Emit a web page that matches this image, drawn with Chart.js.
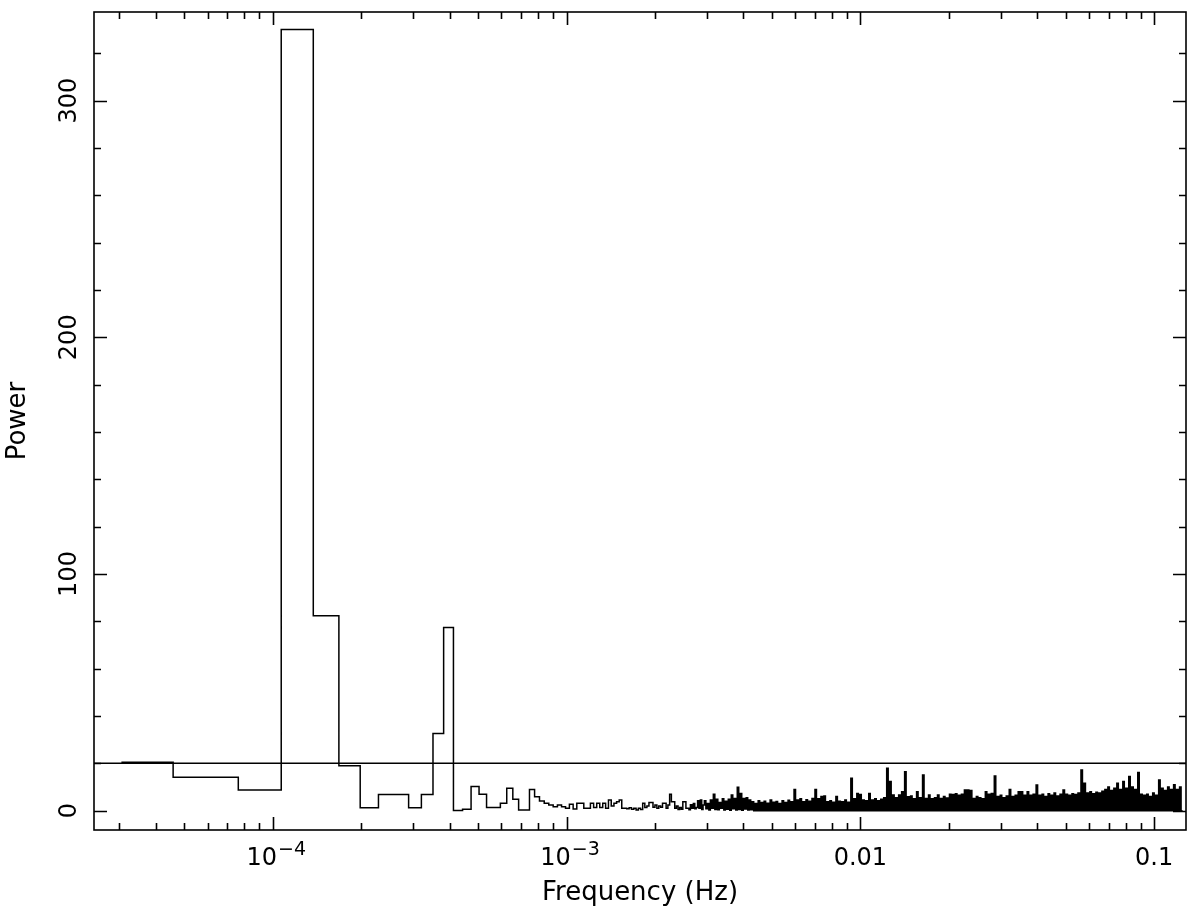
<!DOCTYPE html>
<html>
<head>
<meta charset="utf-8">
<script src="https://cdn.jsdelivr.net/npm/chart.js@4"></script>
<style>
  html, body { margin: 0; padding: 0; background: #fff; }
  #wrap { width: 1200px; height: 921px; }
</style>
</head>
<body>
<div id="wrap"><canvas id="psd" width="1200" height="921"></canvas></div>
<script>
// frequency grid: 8192 points of 4 s -> df = 1/32768 Hz
const binWidth = 1 / 32768;

// power of bins n = 1..96 (resolved one by one on the plot)
const binPower = [
  20.5, 14.1, 8.8, 330, 82.4, 19.0, 1.3, 6.8, 6.8, 1.3,
  6.8, 32.6, 77.4, 0.1, 0.6, 10.2, 6.9, 1.4, 1.4, 3.1,
  9.5, 4.8, 0.3, 0.3, 9.0, 5.9, 4.1, 3.1, 2.4, 1.7,
  2.4, 1.7, 1.0, 2.7, 0.7, 3.1, 3.1, 1.0, 1.0, 3.1,
  1.4, 3.1, 1.4, 3.1, 1.0, 4.5, 2.0, 3.1, 3.8, 4.5,
  1.0, 1.0, 0.8, 1.2, 0.6, 1.0, 0.3, 1.0, 0.5, 3.1,
  1.4, 2.0, 3.5, 3.5, 1.5, 2.4, 1.0, 2.0, 1.5, 3.1,
  3.1, 1.0, 2.4, 7.0, 3.8, 3.8, 1.0, 2.0, 0.5, 1.4,
  0.6, 3.8, 3.8, 1.0, 1.0, 0.4, 2.5, 1.0, 3.0, 0.8,
  1.4, 4.2, 1.0, 4.5, 0.5, 2.4
];

// above ~3e-3 Hz the bins are too dense to resolve: envelope read per ~3 px column
const noiseStart = 96.5 * binWidth;
const noiseEnd = 0.125;
const noisePeak = [
  4.2, 3.0, 4.5, 7.0, 4.8, 3.5, 5.0, 4.0, 4.8, 6.6,
  5.2, 9.9, 7.3, 5.2, 5.5, 4.5, 3.8, 3.0, 4.2, 3.5,
  4.0, 3.2, 4.5, 3.6, 3.9, 3.0, 4.2, 3.5, 4.4, 3.8,
  9.0, 4.5, 5.0, 3.8, 4.6, 4.0, 5.2, 9.0, 5.0, 6.0,
  6.2, 3.8, 4.2, 3.6, 6.0, 4.0, 3.8, 4.5, 3.6, 13.7,
  5.0, 7.3, 6.8, 4.5, 4.2, 7.3, 4.5, 5.0, 4.2, 4.8,
  5.5, 17.9, 12.3, 6.6, 5.5, 6.6, 8.0, 16.5, 5.9, 6.2,
  5.0, 8.0, 5.5, 15.1, 5.2, 6.6, 5.0, 5.5, 6.6, 5.2,
  6.0, 5.4, 7.0, 6.8, 7.2, 6.5, 7.0, 8.7, 8.7, 8.5,
  5.2, 6.0, 5.5, 5.0, 8.0, 7.0, 7.3, 14.7, 6.0, 6.5,
  5.5, 6.2, 9.0, 6.0, 6.5, 8.0, 8.0, 6.5, 8.0, 6.5,
  7.0, 10.9, 6.5, 7.0, 6.0, 7.2, 6.5, 7.5, 6.2, 7.0,
  8.7, 7.0, 6.5, 7.2, 6.8, 7.5, 17.2, 11.6, 7.5, 8.0,
  7.2, 7.8, 7.5, 8.2, 9.0, 10.0, 8.5, 9.5, 11.6, 9.0,
  12.3, 9.5, 14.4, 10.0, 9.0, 16.1, 7.0, 6.5, 7.0, 6.0,
  7.5, 6.5, 13.0, 9.5, 8.5, 10.0, 9.0, 11.0, 9.0, 10.0
];
const noiseLow = [
  0.8, 0.3, 1.0, 0.5, 0.4, 1.0, 0.3, 0.6, 0.2, 0.8,
  0.3, 0.5, 0.2, 0.7, 0.3, 0.4, 0, 0, 0, 0,
  0, 0, 0, 0, 0, 0, 0, 0, 0, 0,
  0, 0, 0, 0, 0, 0, 0, 0, 0, 0,
  0, 0, 0, 0, 0, 0, 0, 0, 0, 0,
  0, 0, 0, 0, 0, 0, 0, 0, 0, 0,
  0, 0, 0, 0, 0, 0, 0, 0, 0, 0,
  0, 0, 0, 0, 0, 0, 0, 0, 0, 0,
  0, 0, 0, 0, 0, 0, 0, 0, 0, 0,
  0, 0, 0, 0, 0, 0, 0, 0, 0, 0,
  0, 0, 0, 0, 0, 0, 0, 0, 0, 0,
  0, 0, 0, 0, 0, 0, 0, 0, 0, 0,
  0, 0, 0, 0, 0, 0, 0, 0, 0, 0,
  0, 0, 0, 0, 0, 0, 0, 0, 0, 0,
  0, 0, 0, 0, 0, 0, 0, 0, 0, 0,
  0, 0, 0, 0, 0, 0, 0, 0, 0, 0
];

const levelPower = 20;

const xMin = 2.462e-5, xMax = 0.1284;
const yMin = -8.15, yMax = 337.4;
const yTickLabels = [0, 100, 200, 300];
const xTickLabels = [
  { f: 1e-4, base: '10', exp: '\u22124' },
  { f: 1e-3, base: '10', exp: '\u22123' },
  { f: 0.01, base: '0.01' },
  { f: 0.1, base: '0.1' }
];

// histogram steps: first bin drawn from its centre, the rest from their left edge
const spectrum = [{ x: binWidth, y: binPower[0] }];
for (let n = 2; n <= binPower.length; n++) {
  spectrum.push({ x: (n - 0.5) * binWidth, y: binPower[n - 1] });
}
const ratio = noiseEnd / noiseStart;
for (let k = 0; k < noisePeak.length; k++) {
  spectrum.push({ x: noiseStart * Math.pow(ratio, k / noisePeak.length), y: noisePeak[k] });
  spectrum.push({ x: noiseStart * Math.pow(ratio, (k + 0.5) / noisePeak.length), y: noiseLow[k] });
}
spectrum.push({ x: noiseEnd, y: noiseLow[noiseLow.length - 1] });

const FONT = '"DejaVu Sans", "Liberation Sans", sans-serif';

const framePlugin = {
  id: 'frame',
  afterDraw(chart) {
    const { ctx, chartArea: a, scales } = chart;
    const x = scales.x, y = scales.y;
    ctx.save();
    ctx.strokeStyle = '#000';
    ctx.lineWidth = 1.6;
    ctx.strokeRect(a.left, a.top, a.right - a.left, a.bottom - a.top);

    ctx.beginPath();
    for (let d = -5; d <= 0; d++) {
      for (let m = 1; m <= 9; m++) {
        const f = m * Math.pow(10, d);
        if (f < xMin || f > xMax) continue;
        const px = Math.round(x.getPixelForValue(f)) + 0.5;
        const len = m === 1 ? 13 : 7;
        ctx.moveTo(px, a.bottom); ctx.lineTo(px, a.bottom - len);
        ctx.moveTo(px, a.top); ctx.lineTo(px, a.top + len);
      }
    }
    for (let v = 0; v <= yMax; v += 20) {
      const py = Math.round(y.getPixelForValue(v)) + 0.5;
      const len = v % 100 === 0 ? 13 : 7;
      ctx.moveTo(a.left, py); ctx.lineTo(a.left + len, py);
      ctx.moveTo(a.right, py); ctx.lineTo(a.right - len, py);
    }
    ctx.stroke();

    ctx.fillStyle = '#000';
    ctx.textBaseline = 'alphabetic';

    // y tick labels, rotated
    ctx.font = '24px ' + FONT;
    ctx.textAlign = 'center';
    yTickLabels.forEach(v => {
      ctx.save();
      ctx.translate(76, y.getPixelForValue(v));
      ctx.rotate(-Math.PI / 2);
      ctx.fillText(String(v), 0, 0);
      ctx.restore();
    });

    // x tick labels, with superscript exponents
    xTickLabels.forEach(t => {
      const px = x.getPixelForValue(t.f);
      ctx.font = '24px ' + FONT;
      const wb = ctx.measureText(t.base).width;
      let we = 0;
      if (t.exp) {
        ctx.font = '19px ' + FONT;
        we = ctx.measureText(t.exp).width;
      }
      const left = px - (wb + we) / 2 + (t.exp ? 3 : 0);
      ctx.textAlign = 'left';
      ctx.font = '24px ' + FONT;
      ctx.fillText(t.base, left, 865);
      if (t.exp) {
        ctx.font = '19px ' + FONT;
        ctx.fillText(t.exp, left + wb + 1, 855);
      }
    });

    // axis titles
    ctx.font = '26px ' + FONT;
    ctx.textAlign = 'center';
    ctx.fillText('Frequency (Hz)', (a.left + a.right) / 2, 900);
    ctx.save();
    ctx.translate(25, (a.top + a.bottom) / 2);
    ctx.rotate(-Math.PI / 2);
    ctx.fillText('Power', 0, 0);
    ctx.restore();
    ctx.restore();
  }
};

new Chart(document.getElementById('psd'), {
  type: 'line',
  data: {
    datasets: [
      {
        data: spectrum,
        borderColor: '#000',
        borderWidth: 1.5,
        pointRadius: 0,
        stepped: 'before',
        fill: false
      },
      {
        data: [{ x: xMin, y: levelPower }, { x: xMax, y: levelPower }],
        borderColor: '#000',
        borderWidth: 1.5,
        pointRadius: 0,
        fill: false
      }
    ]
  },
  options: {
    responsive: false,
    animation: false,
    devicePixelRatio: 1,
    layout: { padding: { left: 94, top: 12, right: 14, bottom: 91 } },
    scales: {
      x: { type: 'logarithmic', min: xMin, max: xMax, display: false },
      y: { type: 'linear', min: yMin, max: yMax, display: false }
    },
    plugins: {
      legend: { display: false },
      tooltip: { enabled: false }
    }
  },
  plugins: [framePlugin]
});
</script>
</body>
</html>
